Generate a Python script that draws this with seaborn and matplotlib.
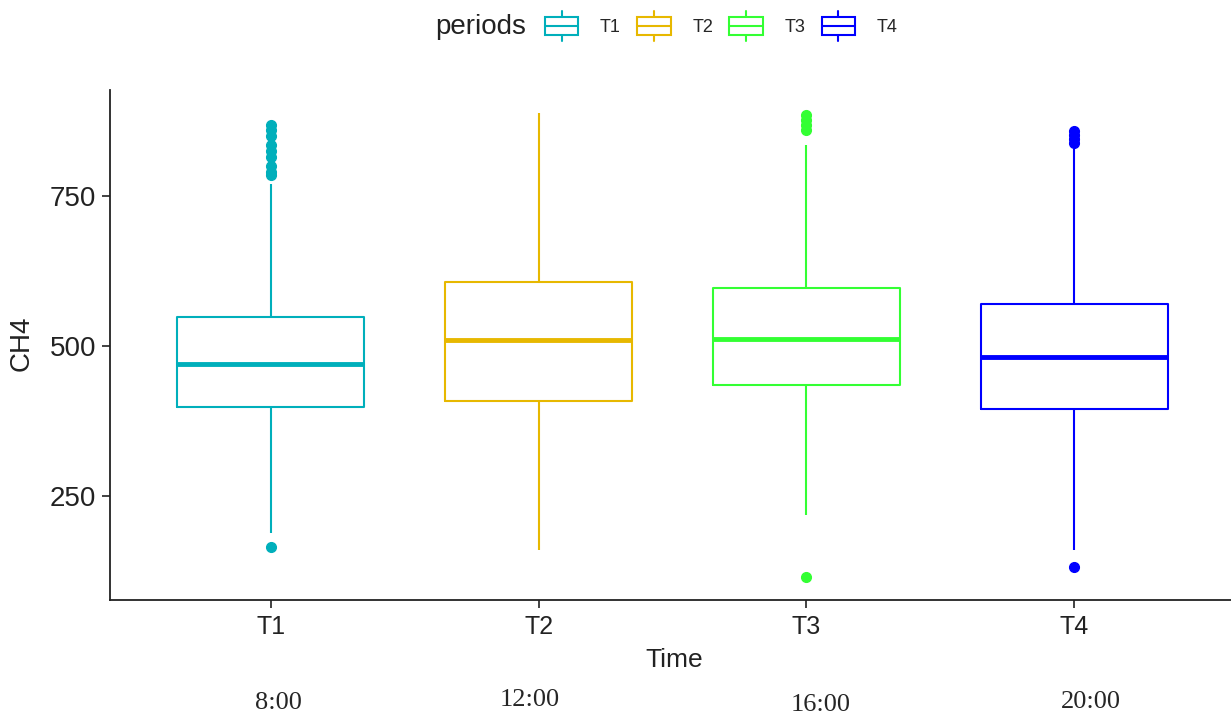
import pandas as pd
import matplotlib
matplotlib.use('Agg')
import matplotlib.pyplot as plt
import seaborn as sns
from matplotlib.legend_handler import HandlerBase
from matplotlib.patches import Rectangle, Patch
from matplotlib.lines import Line2D

periods = ['T1', 'T2', 'T3', 'T4']
hours = ['8:00', '12:00', '16:00', '20:00']
colors = ['#00AFBB', '#E7B800', '#33FF33', '#0000FF']

# box summary
q1 = [399, 408, 435, 396]
medians = [470, 510, 512, 482]
q3 = [548, 607, 597, 570]
whisker_low = [188, 160, 218, 160]
whisker_high = [770, 888, 835, 828]
outliers = [
    [165, 785, 790, 800, 815, 825, 835, 850, 860, 868],
    [],
    [115, 860, 868, 877, 885],
    [132, 838, 845, 852, 858],
]

# rebuild a sample whose quartiles / whiskers match the summary
rows = []
for p, a, m, b, lo, hi, out in zip(periods, q1, medians, q3, whisker_low, whisker_high, outliers):
    vals = [lo] + [a] * 50 + [m] * 50 + [b] * 50 + [hi] + out
    rows += [(p, v) for v in vals]
df = pd.DataFrame(rows, columns=['Time', 'CH4'])
df['periods'] = df['Time']


class BoxKey(HandlerBase):
    def create_artists(self, legend, orig_handle, xdescent, ydescent, width, height, fontsize, trans):
        c = orig_handle.get_edgecolor()
        x0, y0 = -xdescent, -ydescent
        lo, hi = y0 + height * 0.21, y0 + height * 0.79
        box = Rectangle((x0, lo), width, hi - lo, fill=False,
                        edgecolor=c, lw=1.5, transform=trans)
        med = Line2D([x0, x0 + width], [y0 + height / 2] * 2, color=c, lw=1.5, transform=trans)
        top = Line2D([x0 + width / 2] * 2, [hi, y0 + height], color=c, lw=1.5, transform=trans)
        bot = Line2D([x0 + width / 2] * 2, [y0, lo], color=c, lw=1.5, transform=trans)
        return [box, med, top, bot]


sns.set_style('ticks')
plt.rcParams['font.family'] = ['Liberation Sans', 'DejaVu Sans']

fig = plt.figure(figsize=(12.31, 7.19), dpi=100)
ax = fig.add_axes([110 / 1231, 1 - 600 / 719, 1 - 110 / 1231, (600 - 90) / 719])

sns.boxplot(data=df, x='Time', y='CH4', hue='periods', palette=colors, fill=False,
            dodge=False, width=0.7, linewidth=1.5, showcaps=False,
            medianprops={'linewidth': 3.5},
            flierprops={'marker': 'o', 'markersize': 7},
            legend=False, ax=ax)

for line in ax.lines:
    if line.get_marker() == 'o':
        line.set_markerfacecolor(line.get_markeredgecolor())

ax.set_xlim(-0.6, 3.585)
ax.set_ylim(77, 927)
ax.set_yticks([250, 500, 750])
sns.despine(ax=ax)
for s in ['left', 'bottom']:
    ax.spines[s].set_linewidth(1.3)
    ax.spines[s].set_color('#222222')
ax.tick_params(length=6, width=1.2, colors='#222222', labelsize=20, pad=4)
ax.tick_params(axis='x', labelsize=18, pad=5)
ax.set_xlabel('Time', fontsize=19, color='#222222')
ax.set_ylabel('CH4', fontsize=20, color='#222222')
ax.xaxis.set_label_coords(0.5035, -0.094)
ax.yaxis.set_label_coords(-0.067, 0.504)

# legend across the top
fig.text(435 / 1231, 1 - 27 / 719, 'periods', fontsize=20, va='center', color='#222222')
handles = [Patch(facecolor='none', edgecolor=c) for c in colors]
fig.legend(handles, periods, handler_map={Patch: BoxKey()}, ncol=4, frameon=False,
           loc='center left', bbox_to_anchor=(545 / 1231, 1 - 26 / 719),
           fontsize=13, handlelength=1.85, handleheight=2.2, handletextpad=1.2,
           columnspacing=0.9, borderaxespad=0, borderpad=0)

# clock times written under the axis
hour_pos = [(278, 703), (530, 700), (821, 705), (1091, 702)]
for h, (px, py) in zip(hours, hour_pos):
    fig.text(px / 1231, 1 - py / 719, h, fontsize=19, family=['Liberation Serif'],
             ha='center', va='center')

fig.savefig('out.png', dpi=100)
